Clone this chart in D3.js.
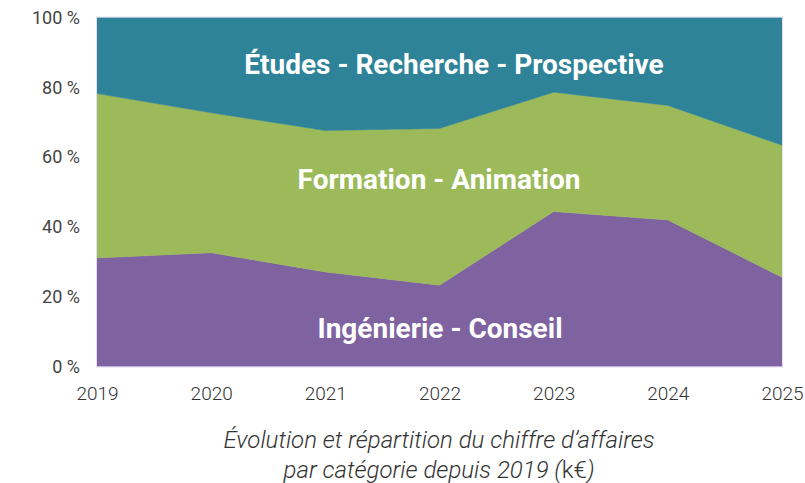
<!DOCTYPE html>
<html><head><meta charset="utf-8">
<script src="https://cdn.jsdelivr.net/npm/d3@7"></script>
<style>
html,body{margin:0;padding:0;background:#fff;}
svg{display:block;font-family:Roboto, "Noto Sans", sans-serif;}
</style></head>
<body>
<svg id="chart" width="805" height="483"></svg>
<script>
const years = [2019, 2020, 2021, 2022, 2023, 2024, 2025];
const ingenierie = [31.1, 32.6, 27.1, 23.3, 44.4, 42.0, 25.6];
const formation = [47.1, 40.1, 40.5, 44.9, 34.2, 32.8, 37.8];
const etudes = [21.8, 27.3, 32.4, 31.8, 21.4, 25.2, 36.6];
const seriesNames = ["Ingénierie - Conseil", "Formation - Animation", "Études - Recherche - Prospective"];
const seriesColors = ["#7f63a1", "#9dba5a", "#2e8399"];
const yTicks = [0, 20, 40, 60, 80, 100];
const caption = [["Évolution et répartition du chiffre d’affaires", ""], ["par catégorie depuis 2019 (", "k€", ")"]];

const svg = d3.select("#chart");
const x = d3.scalePoint().domain(years).range([97, 782]);
const y = d3.scaleLinear().domain([0, 100]).range([366.5, 17.5]);

const rows = years.map((yr, i) => ({year: yr, a: ingenierie[i], b: formation[i], c: etudes[i]}));
const stack = d3.stack().keys(["a", "b", "c"]);
const layers = stack(rows);

const area = d3.area()
  .x(d => x(d.data.year))
  .y0(d => y(d[0]))
  .y1(d => y(d[1]));

svg.append("g").selectAll("path").data(layers).join("path")
  .attr("d", area)
  .attr("fill", (d, i) => seriesColors[i])
  .attr("stroke", (d, i) => seriesColors[i])
  .attr("stroke-width", 0.5);

// light frame
svg.append("rect")
  .attr("x", x(years[0]) - 0.5).attr("y", y(100) - 0.5)
  .attr("width", x(years[years.length - 1]) - x(years[0]) + 1)
  .attr("height", y(0) - y(100) + 1)
  .attr("fill", "none").attr("stroke", "#e4def0").attr("stroke-width", 1);

// y axis
const yAxis = d3.axisLeft(y).tickValues(yTicks).tickFormat(d => d + " %").tickSize(0).tickPadding(17);
const gy = svg.append("g").attr("transform", `translate(${x(years[0])},0)`).call(yAxis);
gy.select(".domain").remove();
gy.selectAll("text").attr("font-size", 18).attr("fill", "#444").attr("font-family", "Roboto");

// x axis
const xAxis = d3.axisBottom(x).tickFormat(d => String(d)).tickSize(0).tickPadding(20);
const gx = svg.append("g").attr("transform", `translate(0,${y(0)})`).call(xAxis);
gx.select(".domain").remove();
gx.selectAll("text").attr("font-size", 19).attr("fill", "#333").attr("font-weight", 300).attr("font-family", "Roboto");

// series labels
const labelPos = [[440, 328], [439, 179], [454, 64]];
svg.append("g").selectAll("text").data(seriesNames).join("text")
  .attr("x", (d, i) => labelPos[i][0])
  .attr("y", (d, i) => labelPos[i][1])
  .attr("text-anchor", "middle")
  .attr("dominant-baseline", "central")
  .attr("font-size", 28)
  .attr("font-weight", "bold")
  .attr("fill", "#fff")
  .text(d => d);

// caption
const cap = svg.append("g").selectAll("text").data(caption).join("text")
  .attr("x", 439)
  .attr("y", (d, i) => 448 + i * 30)
  .attr("text-anchor", "middle")
  .attr("font-size", 24)
  .attr("font-weight", 300)
  .attr("fill", "#333");
cap.each(function(parts) {
  const t = d3.select(this);
  parts.forEach((p, j) => {
    if (!p) return;
    t.append("tspan").attr("font-style", j === 1 ? "normal" : "italic").text(p);
  });
});
</script>
</body></html>
